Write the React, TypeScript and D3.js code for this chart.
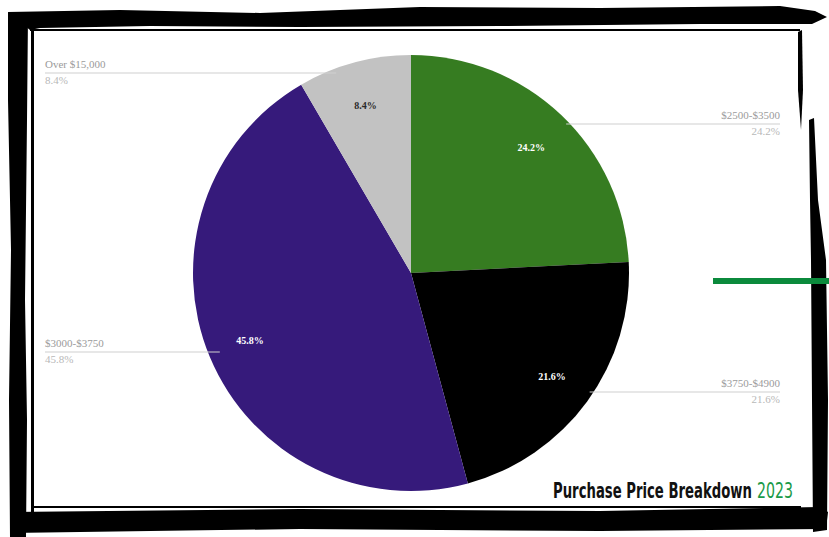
import { useLayoutEffect, useRef, useState } from 'react';
import * as d3 from 'd3';

// slices, clockwise from 12 o'clock
const categories = ['$2500-$3500', '$3750-$4900', '$3000-$3750', 'Over $15,000'];
const shares = [24.2, 21.6, 45.8, 8.4];
const colors = ['#367c21', '#000000', '#361a7b', '#c2c2c2'];
const innerText = ['#ffffff', '#ffffff', '#ffffff', '#2a2a2a'];
const titleMain = 'Purchase Price Breakdown';
const titleYear = '2023';

const W = 829, H = 537;
const cx = 411, cy = 273, R = 218;

// leader line layout: y of the line, side of the label
const leaderY = [124, 392, 352, 73];
const leaderSide = ['right', 'right', 'left', 'left'];

export default function App() {
  const mainRef = useRef<SVGTextElement>(null);
  const yearRef = useRef<SVGTextElement>(null);
  const [sx, setSx] = useState<[number, number]>([1, 1]);

  // squeeze the title into the width it takes in the reference
  useLayoutEffect(() => {
    if (!mainRef.current || !yearRef.current) return;
    const m = mainRef.current.getComputedTextLength();
    const y = yearRef.current.getComputedTextLength();
    setSx([m ? 199 / m : 1, y ? 36 / y : 1]);
  }, []);

  const pie = d3.pie<number>().value(d => d).sort(null);
  const arcs = pie(shares);
  const arc = d3.arc<d3.PieArcDatum<number>>().innerRadius(0).outerRadius(R);
  const labelArc = d3.arc<d3.PieArcDatum<number>>().innerRadius(R * 1.6).outerRadius(R * 1.6);
  const fmt = (v: number) => `${v.toFixed(1)}%`;

  return (
    <svg width={W} height={H} viewBox={`0 0 ${W} ${H}`} style={{ position: 'absolute', left: 0, top: 0 }}>
      <rect width={W} height={H} fill="#ffffff" />

      <g transform={`translate(${cx},${cy})`}>
        {arcs.map((a, i) => (
          <path key={i} d={arc(a) || ''} fill={colors[i]} />
        ))}
      </g>

      {/* leader lines + outside labels */}
      {arcs.map((a, i) => {
        const y = leaderY[i];
        const dy = y - cy;
        const dx = Math.sqrt(Math.max(0, R * R - dy * dy));
        const right = leaderSide[i] === 'right';
        const x0 = right ? cx + dx - 4 : cx - dx + 12;
        const x1 = right ? 780 : 45;
        return (
          <g key={i} fontFamily="'Liberation Serif', 'Times New Roman', serif" fontSize={11}>
            <line x1={x0} y1={y} x2={x1} y2={y} stroke="#cfcfcf" strokeWidth={1.2} />
            <text x={x1} y={y - 5} textAnchor={right ? 'end' : 'start'} fill="#9b9b9b">{categories[i]}</text>
            <text x={x1} y={y + 11} textAnchor={right ? 'end' : 'start'} fill="#b8b8b8">{fmt(a.data)}</text>
          </g>
        );
      })}

      {/* inner percentage labels */}
      <g transform={`translate(${cx},${cy})`} fontFamily="'Liberation Serif', 'Times New Roman', serif" fontSize={10} fontWeight="bold" textAnchor="middle">
        {arcs.map((a, i) => {
          const [lx, ly] = labelArc.centroid(a).map(v => v / 2);
          return (
            <text key={i} x={lx} y={ly + 4} fill={innerText[i]}>{fmt(a.data)}</text>
          );
        })}
      </g>

      {/* brushed frame */}
      <g fill="#000000">
        <path d="M 8 12 L 120 10 L 260 13 L 420 7 L 600 8 L 780 6 L 815 11 L 827 17 L 812 24 L 700 24 L 500 26 L 300 27 L 150 26 L 40 28 L 30 30 Z" />
        <path d="M 8 12 L 28 14 L 27 120 L 25 300 L 27 420 L 26 537 L 10 537 L 9 400 L 11 250 L 8 100 Z" />
        <rect x={31} y={29} width={3} height={483} />
        <rect x={30} y={29} width={770} height={2} />
        <path d="M 798 32 L 802 30 L 803 90 L 801 130 L 798 90 Z" />
        <path d="M 809 120 L 814 118 L 818 200 L 826 260 L 828 400 L 827 530 L 813 532 L 812 400 L 811 260 L 810 200 Z" />
        <path d="M 10 512 L 300 509 L 600 511 L 820 507 L 828 512 L 826 529 L 600 531 L 300 529 L 10 533 Z" />
        <rect x={31} y={506} width={770} height={2} />
      </g>
      <rect x={713} y={278} width={116} height={6} fill="#0b8a3c" />

      <g fontFamily="'Liberation Sans Narrow', 'DejaVu Sans Condensed', sans-serif" fontSize={22}>
        <text ref={mainRef} transform={`translate(553,498) scale(${sx[0]},1)`} fontWeight="bold" fill="#111111">{titleMain}</text>
        <text ref={yearRef} transform={`translate(757,498) scale(${sx[1]},1)`} fill="#1a9a48">{titleYear}</text>
      </g>
    </svg>
  );
}
